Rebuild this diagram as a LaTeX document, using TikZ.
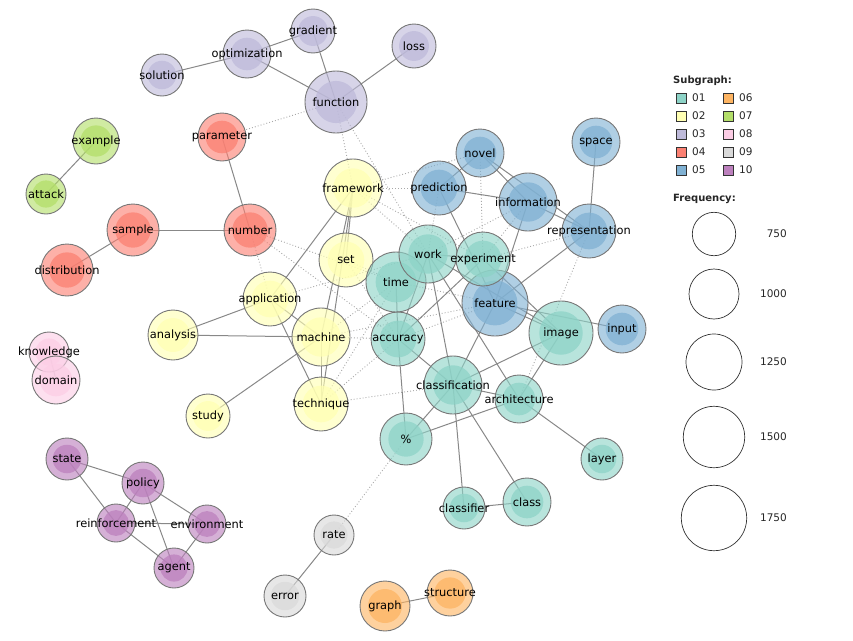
\documentclass[tikz,border=0pt]{standalone}
\usepackage{fontspec}
\setmainfont{DejaVu Sans}
\usetikzlibrary{backgrounds}
\definecolor{c01}{HTML}{8DD3C7}
\definecolor{c02}{HTML}{FFFFB3}
\definecolor{c03}{HTML}{BEBADA}
\definecolor{c04}{HTML}{FB8072}
\definecolor{c05}{HTML}{80B1D3}
\definecolor{c06}{HTML}{FDB462}
\definecolor{c07}{HTML}{B3DE69}
\definecolor{c08}{HTML}{FCCDE5}
\definecolor{c09}{HTML}{D9D9D9}
\definecolor{c10}{HTML}{BC80BD}
\definecolor{ndraw}{HTML}{777777}
\definecolor{sedgec}{HTML}{888888}
\definecolor{dedgec}{HTML}{A8A8A8}
\definecolor{legc}{HTML}{333333}
\tikzset{
  gnode/.style={circle, draw=ndraw, line width=0.9pt, fill opacity=.62, text opacity=1,
    inner sep=0pt, text=black, font=\fontsize{11.4}{13}\selectfont},
  sedge/.style={draw=sedgec, line width=1pt},
  dedge/.style={draw=dedgec, line width=0.9pt, dash pattern=on 0.9pt off 2.1pt},
  swatch/.style={draw=legc, line width=0.7pt, minimum size=10pt, inner sep=0pt},
  legtxt/.style={font=\fontsize{10.5}{12}\selectfont, text=black!85, inner sep=0pt},
  legtitle/.style={font=\bfseries\fontsize{10}{12}\selectfont, text=black!85, inner sep=0pt, anchor=west},
  freqc/.style={circle, draw=legc, line width=0.7pt, inner sep=0pt}
}
\newcommand\gn[6]{%
  \node[gnode, minimum size=#4*2pt, fill=#5,
    path picture={\fill[#5, fill opacity=.75] (path picture bounding box.center) circle[radius=#4*0.68pt];}]
    (#1) at (#2,#3) {\makebox[0pt]{#6}};}
\begin{document}
\begin{tikzpicture}[x=1pt,y=-1pt]
\useasboundingbox (0,0) rectangle (853,640);
% nodes
\gn{gradient}{313}{31}{22}{c03}{gradient}
\gn{loss}{414}{46}{22}{c03}{loss}
\gn{optimization}{247}{54}{24}{c03}{optimization}
\gn{solution}{162}{75}{21}{c03}{solution}
\gn{function}{336}{102}{31}{c03}{function}
\gn{parameter}{222}{137}{24}{c04}{parameter}
\gn{number}{250}{230}{26}{c04}{number}
\gn{sample}{133}{230}{26}{c04}{sample}
\gn{distribution}{67}{270}{26}{c04}{distribution}
\gn{example}{96}{141}{23}{c07}{example}
\gn{attack}{46}{194}{20}{c07}{attack}
\gn{framework}{353}{188}{29}{c02}{framework}
\gn{set}{346}{260}{27}{c02}{set}
\gn{application}{270}{299}{27}{c02}{application}
\gn{analysis}{173}{335}{25}{c02}{analysis}
\gn{machine}{321}{337}{29}{c02}{machine}
\gn{technique}{321}{404}{27}{c02}{technique}
\gn{study}{208}{416}{22}{c02}{study}
\gn{novel}{480}{153}{24}{c05}{novel}
\gn{prediction}{439}{188}{27}{c05}{prediction}
\gn{space}{596}{142}{24}{c05}{space}
\gn{information}{528}{202}{29}{c05}{information}
\gn{representation}{589}{231}{27}{c05}{representation}
\gn{feature}{495}{303}{33}{c05}{feature}
\gn{input}{622}{329}{24}{c05}{input}
\gn{time}{396}{282}{30}{c01}{time}
\gn{work}{428}{254}{29}{c01}{work}
\gn{experiment}{483}{259}{27}{c01}{experiment}
\gn{accuracy}{398}{339}{27}{c01}{accuracy}
\gn{image}{561}{333}{32}{c01}{image}
\gn{classification}{453}{385}{29}{c01}{classification}
\gn{architecture}{519}{399}{24}{c01}{architecture}
\gn{percent}{406}{439}{26}{c01}{\%}
\gn{layer}{602}{459}{21}{c01}{layer}
\gn{classifier}{464}{508}{21}{c01}{classifier}
\gn{class}{527}{502}{24}{c01}{class}
\gn{knowledge}{49}{352}{20}{c08}{knowledge}
\gn{domain}{56}{380}{24}{c08}{domain}
\gn{state}{67}{459}{21}{c10}{state}
\gn{policy}{143}{483}{21}{c10}{policy}
\gn{reinforcement}{116}{523}{19}{c10}{reinforcement}
\gn{environment}{207}{524}{19}{c10}{environment}
\gn{agent}{174}{568}{20}{c10}{agent}
\gn{rate}{334}{535}{20}{c09}{rate}
\gn{error}{285}{596}{21}{c09}{error}
\gn{graph}{385}{606}{25}{c06}{graph}
\gn{structure}{450}{593}{23}{c06}{structure}
% edges
\begin{scope}[on background layer]
\foreach \a/\b in {function/parameter, function/framework, function/work,
  framework/prediction, framework/novel, framework/work, framework/experiment,
  novel/experiment, prediction/work, information/work, information/experiment,
  representation/experiment, architecture/representation,
  number/application, number/time, number/accuracy, application/work,
  set/time, set/accuracy, machine/time, machine/accuracy, machine/feature,
  technique/accuracy, technique/time, technique/classification,
  accuracy/feature, time/feature, percent/rate}
  \draw[dedge] (\a.center) -- (\b.center);
\foreach \a/\b in {optimization/gradient, gradient/function, loss/function,
  optimization/solution, optimization/function, parameter/number, example/attack,
  sample/number, sample/distribution, knowledge/domain,
  framework/set, framework/machine, framework/technique, framework/application,
  application/analysis, analysis/machine, application/machine, application/technique,
  machine/technique, study/machine,
  novel/prediction, novel/information, novel/representation, prediction/information,
  prediction/feature, information/representation, information/feature,
  space/representation, representation/feature, feature/input,
  work/experiment, work/classification, work/architecture, work/accuracy, work/image,
  time/accuracy, accuracy/percent, accuracy/classification, accuracy/experiment,
  classification/percent, classification/architecture, classification/image,
  classification/classifier, classification/class, classification/feature,
  architecture/image, architecture/layer, architecture/percent, classifier/class,
  feature/image, experiment/image,
  state/policy, state/reinforcement, policy/reinforcement, policy/environment,
  policy/agent, reinforcement/environment, reinforcement/agent, environment/agent,
  rate/error, graph/structure}
  \draw[sedge] (\a.center) -- (\b.center);
\end{scope}
% legend
\node[legtitle] (subttl) at (673,81) {Subgraph:};
\foreach \i/\c/\y in {01/c01/98, 02/c02/116, 03/c03/134, 04/c04/152, 05/c05/170}{
  \node[swatch, fill=\c] (sw\i) at (681,\y) {};
  \node[legtxt, anchor=west] (lt\i) at (692,\y) {\i};
}
\foreach \i/\c/\y in {06/c06/98, 07/c07/116, 08/c08/134, 09/c09/152, 10/c10/170}{
  \node[swatch, fill=\c] (sw\i) at (728,\y) {};
  \node[legtxt, anchor=west] (lt\i) at (739,\y) {\i};
}
\node[legtitle] (freqttl) at (673,199) {Frequency:};
\foreach \v/\y/\r in {750/234/21.7, 1000/294/25, 1250/362/28, 1500/437/30.7, 1750/518/32.7}{
  \node[freqc, minimum size=\r*2pt] (fc\v) at (714,\y) {};
  \node[legtxt, anchor=east] (fl\v) at (787,\y) {\v};
}
\end{tikzpicture}
\end{document}
